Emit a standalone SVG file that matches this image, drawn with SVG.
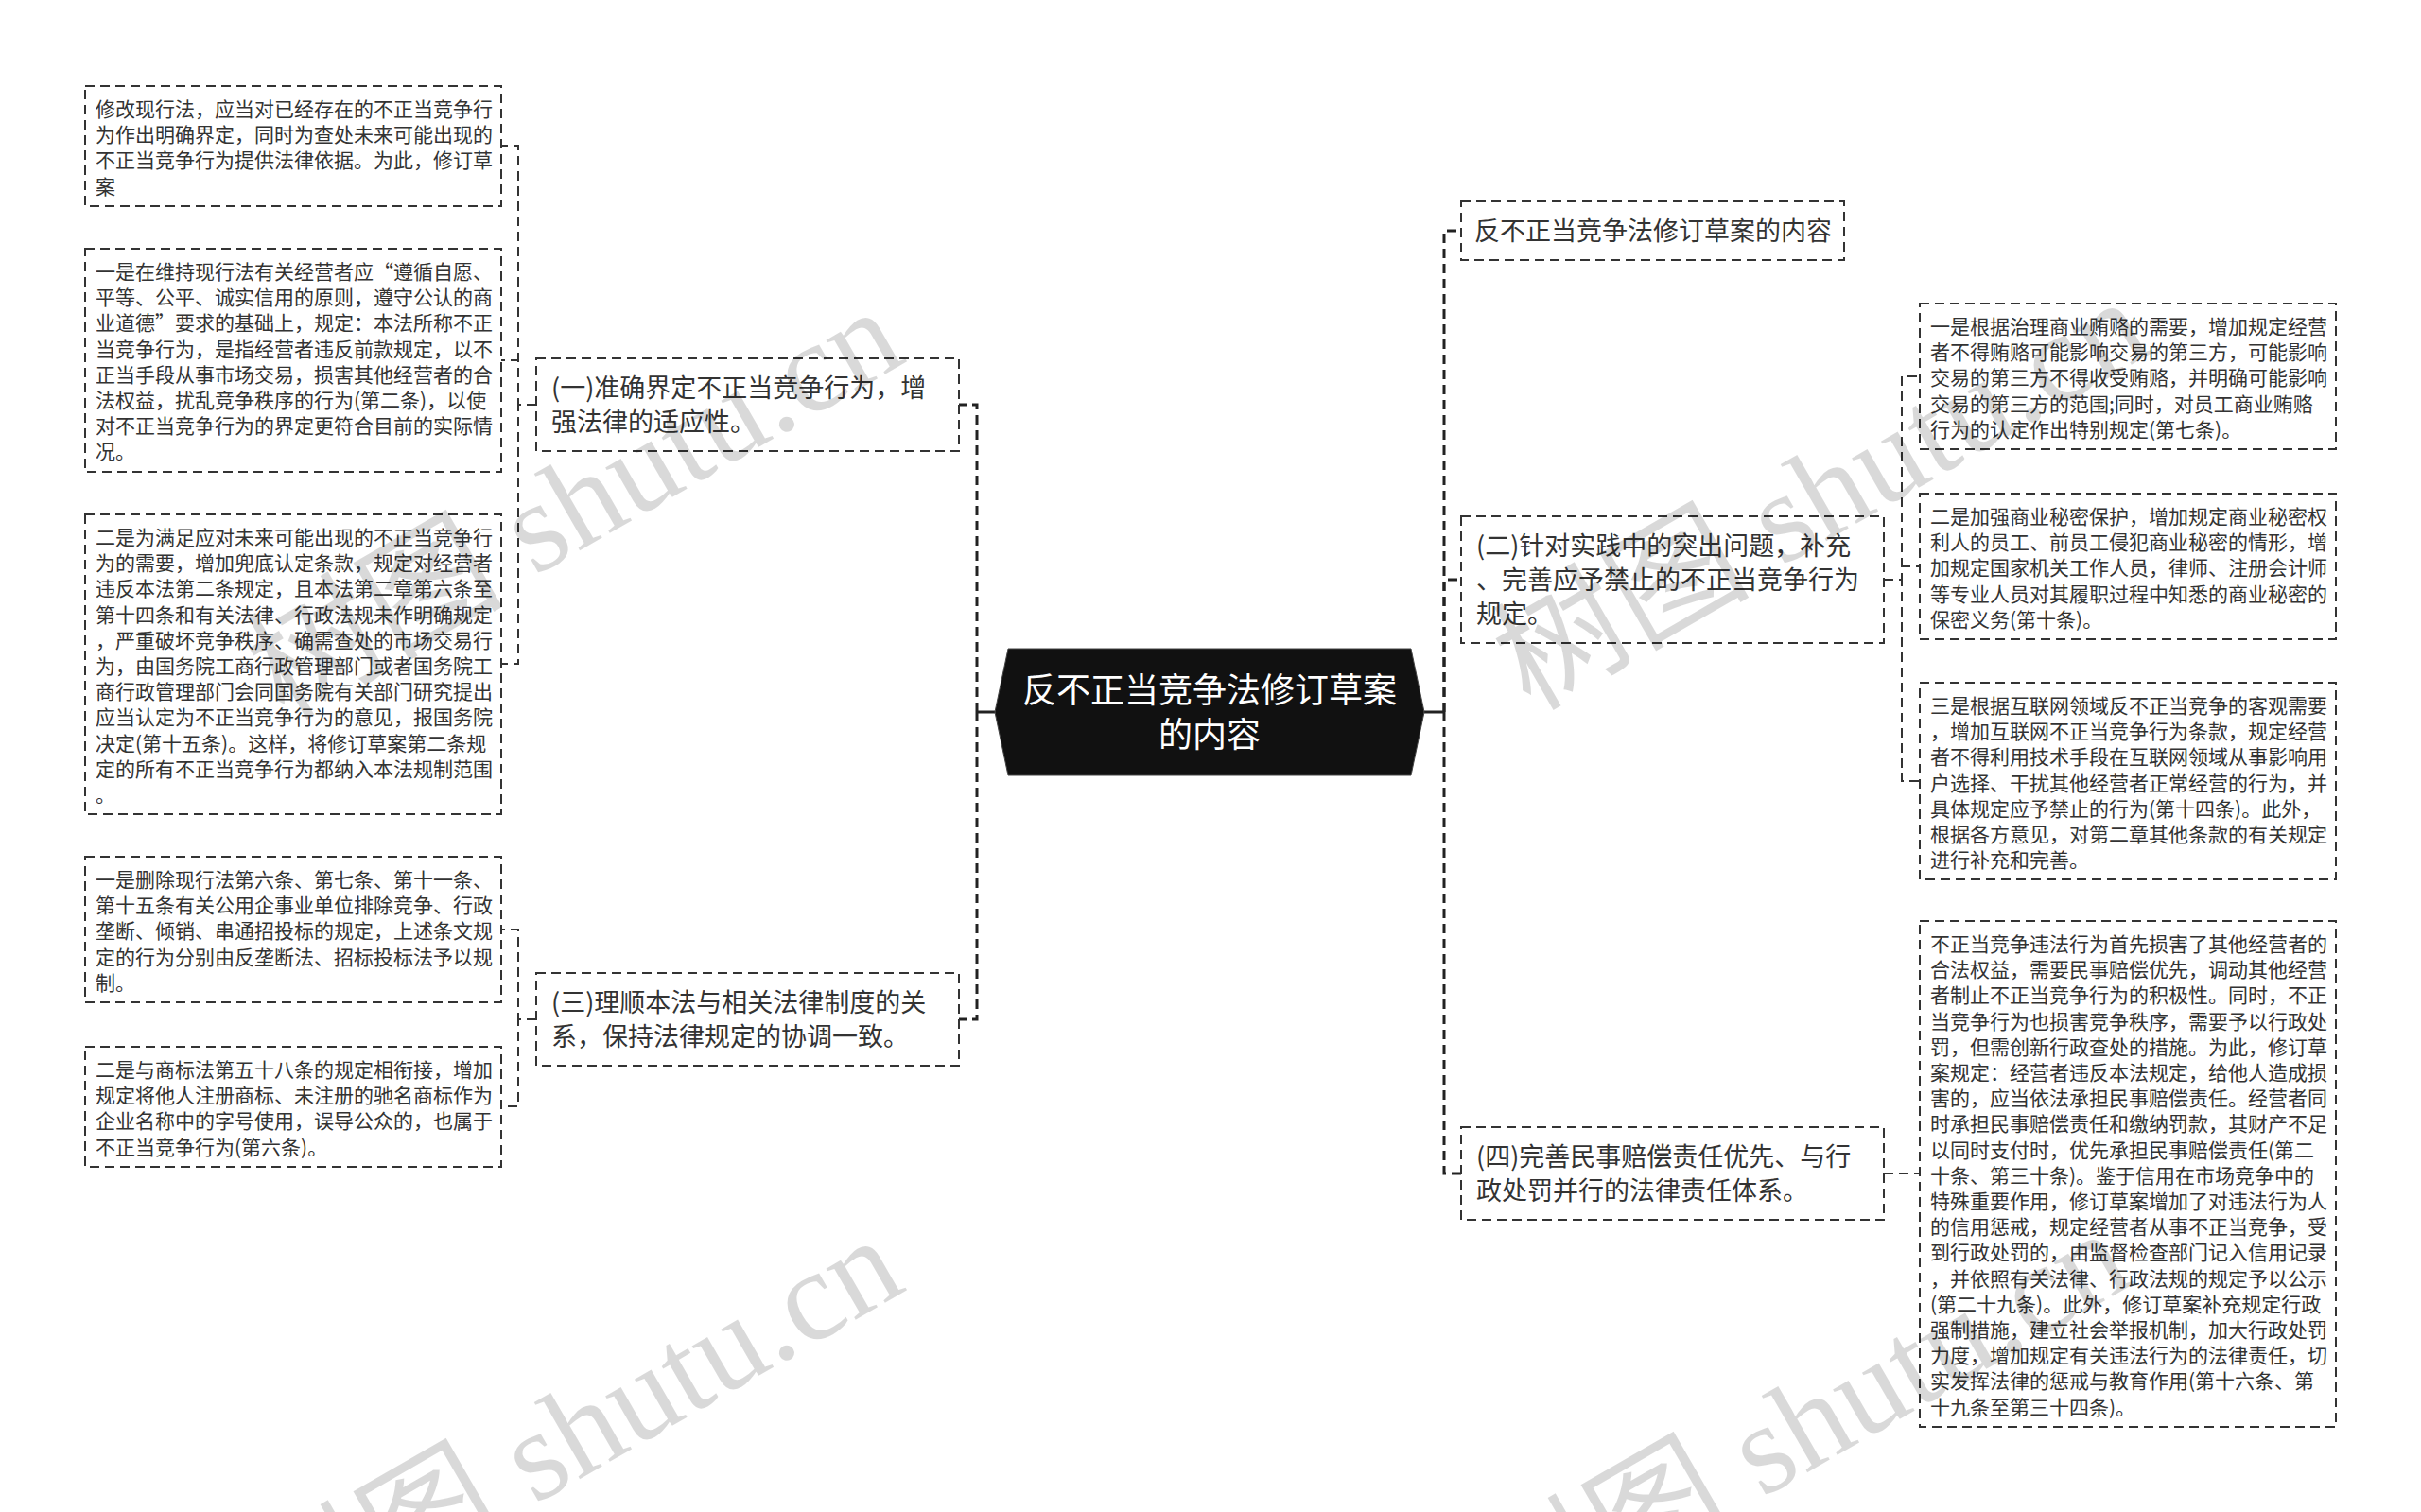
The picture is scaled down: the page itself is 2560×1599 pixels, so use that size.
<svg xmlns="http://www.w3.org/2000/svg" width="2560" height="1599" viewBox="0 0 2560 1599">
<style>
.box{fill:none;stroke:#333;stroke-width:2;stroke-dasharray:10 6}
.t{font-family:"Noto Sans CJK SC","Noto Sans",sans-serif;fill:#333}
.s{font-size:21px}
.m{font-size:27px}
.c{font-size:36px;fill:#fff;text-anchor:middle}
.e{fill:none;stroke:#333;stroke-width:2;stroke-dasharray:10 6}
.ec{fill:none;stroke:#222;stroke-width:3;stroke-dasharray:10 6}
.st{fill:none;stroke:#222;stroke-width:3}
.wm{font-family:"Liberation Serif","Noto Sans CJK SC",serif;font-size:136px;fill:#000;fill-opacity:0.15}
</style>
<rect width="2560" height="1599" fill="#fff"/>
<g id="connectors">
<path class="st" d="M1052 753H1033"/>
<path class="ec" d="M1033 753V428H1014"/>
<path class="ec" d="M1033 753V1078H1014"/>
<path class="st" d="M1506 753H1527"/>
<path class="ec" d="M1527 753V244H1545"/>
<path class="ec" d="M1527 753V613H1545"/>
<path class="ec" d="M1527 753V1241H1545"/>
<path class="e" d="M567 428H548V154H530"/>
<path class="e" d="M567 428H548V381H530"/>
<path class="e" d="M567 428H548V702H530"/>
<path class="e" d="M567 1078H548V983H530"/>
<path class="e" d="M567 1078H548V1170H530"/>
<path class="e" d="M1992 613H2011V398H2030"/>
<path class="e" d="M1992 613H2011V599H2030"/>
<path class="e" d="M1992 613H2011V826H2030"/>
<path class="e" d="M1992 1241H2030"/>
</g>
<g id="root">
<polygon points="1052,753 1066,686 1492,686 1506,753 1492,820 1066,820" fill="#111" stroke="#444" stroke-width="1"/>
<text class="t c" x="1279" y="743">反不正当竞争法修订草案</text>
<text class="t c" x="1279" y="790">的内容</text>
</g>
<g id="n1">
<rect class="box" x="567" y="379" width="447" height="98"/>
<text class="t m" x="583" y="420">(一)准确界定不正当竞争行为，增</text>
<text class="t m" x="583" y="456">强法律的适应性。</text>
</g>
<g id="n1a">
<rect class="box" x="90" y="91" width="440" height="127"/>
<text class="t s" x="101" y="123">修改现行法，应当对已经存在的不正当竞争行</text>
<text class="t s" x="101" y="150.2">为作出明确界定，同时为查处未来可能出现的</text>
<text class="t s" x="101" y="177.4">不正当竞争行为提供法律依据。为此，修订草</text>
<text class="t s" x="101" y="204.6">案</text>
</g>
<g id="n1b">
<rect class="box" x="90" y="263" width="440" height="236"/>
<text class="t s" x="101" y="295">一是在维持现行法有关经营者应“遵循自愿、</text>
<text class="t s" x="101" y="322.2">平等、公平、诚实信用的原则，遵守公认的商</text>
<text class="t s" x="101" y="349.4">业道德”要求的基础上，规定：本法所称不正</text>
<text class="t s" x="101" y="376.6">当竞争行为，是指经营者违反前款规定，以不</text>
<text class="t s" x="101" y="403.8">正当手段从事市场交易，损害其他经营者的合</text>
<text class="t s" x="101" y="431">法权益，扰乱竞争秩序的行为(第二条)，以使</text>
<text class="t s" x="101" y="458.2">对不正当竞争行为的界定更符合目前的实际情</text>
<text class="t s" x="101" y="485.4">况。</text>
</g>
<g id="n1c">
<rect class="box" x="90" y="544" width="440" height="317"/>
<text class="t s" x="101" y="576">二是为满足应对未来可能出现的不正当竞争行</text>
<text class="t s" x="101" y="603.2">为的需要，增加兜底认定条款，规定对经营者</text>
<text class="t s" x="101" y="630.4">违反本法第二条规定，且本法第二章第六条至</text>
<text class="t s" x="101" y="657.6">第十四条和有关法律、行政法规未作明确规定</text>
<text class="t s" x="101" y="684.8">，严重破坏竞争秩序、确需查处的市场交易行</text>
<text class="t s" x="101" y="712">为，由国务院工商行政管理部门或者国务院工</text>
<text class="t s" x="101" y="739.2">商行政管理部门会同国务院有关部门研究提出</text>
<text class="t s" x="101" y="766.4">应当认定为不正当竞争行为的意见，报国务院</text>
<text class="t s" x="101" y="793.6">决定(第十五条)。这样，将修订草案第二条规</text>
<text class="t s" x="101" y="820.8">定的所有不正当竞争行为都纳入本法规制范围</text>
<text class="t s" x="101" y="848">。</text>
</g>
<g id="n3">
<rect class="box" x="567" y="1029" width="447" height="98"/>
<text class="t m" x="583" y="1070">(三)理顺本法与相关法律制度的关</text>
<text class="t m" x="583" y="1106">系，保持法律规定的协调一致。</text>
</g>
<g id="n3a">
<rect class="box" x="90" y="906" width="440" height="154"/>
<text class="t s" x="101" y="938">一是删除现行法第六条、第七条、第十一条、</text>
<text class="t s" x="101" y="965.2">第十五条有关公用企事业单位排除竞争、行政</text>
<text class="t s" x="101" y="992.4">垄断、倾销、串通招投标的规定，上述条文规</text>
<text class="t s" x="101" y="1019.6">定的行为分别由反垄断法、招标投标法予以规</text>
<text class="t s" x="101" y="1046.8">制。</text>
</g>
<g id="n3b">
<rect class="box" x="90" y="1107" width="440" height="127"/>
<text class="t s" x="101" y="1139">二是与商标法第五十八条的规定相衔接，增加</text>
<text class="t s" x="101" y="1166.2">规定将他人注册商标、未注册的驰名商标作为</text>
<text class="t s" x="101" y="1193.4">企业名称中的字号使用，误导公众的，也属于</text>
<text class="t s" x="101" y="1220.6">不正当竞争行为(第六条)。</text>
</g>
<g id="title">
<rect class="box" x="1545" y="213" width="405" height="62"/>
<text class="t m" x="1559" y="254">反不正当竞争法修订草案的内容</text>
</g>
<g id="n2">
<rect class="box" x="1545" y="546" width="447" height="134"/>
<text class="t m" x="1561" y="587">(二)针对实践中的突出问题，补充</text>
<text class="t m" x="1561" y="623">、完善应予禁止的不正当竞争行为</text>
<text class="t m" x="1561" y="659">规定。</text>
</g>
<g id="n2a">
<rect class="box" x="2030" y="321" width="440" height="154"/>
<text class="t s" x="2041" y="353">一是根据治理商业贿赂的需要，增加规定经营</text>
<text class="t s" x="2041" y="380.2">者不得贿赂可能影响交易的第三方，可能影响</text>
<text class="t s" x="2041" y="407.4">交易的第三方不得收受贿赂，并明确可能影响</text>
<text class="t s" x="2041" y="434.6">交易的第三方的范围;同时，对员工商业贿赂</text>
<text class="t s" x="2041" y="461.8">行为的认定作出特别规定(第七条)。</text>
</g>
<g id="n2b">
<rect class="box" x="2030" y="522" width="440" height="154"/>
<text class="t s" x="2041" y="554">二是加强商业秘密保护，增加规定商业秘密权</text>
<text class="t s" x="2041" y="581.2">利人的员工、前员工侵犯商业秘密的情形，增</text>
<text class="t s" x="2041" y="608.4">加规定国家机关工作人员，律师、注册会计师</text>
<text class="t s" x="2041" y="635.6">等专业人员对其履职过程中知悉的商业秘密的</text>
<text class="t s" x="2041" y="662.8">保密义务(第十条)。</text>
</g>
<g id="n2c">
<rect class="box" x="2030" y="722" width="440" height="208"/>
<text class="t s" x="2041" y="754">三是根据互联网领域反不正当竞争的客观需要</text>
<text class="t s" x="2041" y="781.2">，增加互联网不正当竞争行为条款，规定经营</text>
<text class="t s" x="2041" y="808.4">者不得利用技术手段在互联网领域从事影响用</text>
<text class="t s" x="2041" y="835.6">户选择、干扰其他经营者正常经营的行为，并</text>
<text class="t s" x="2041" y="862.8">具体规定应予禁止的行为(第十四条)。此外，</text>
<text class="t s" x="2041" y="890">根据各方意见，对第二章其他条款的有关规定</text>
<text class="t s" x="2041" y="917.2">进行补充和完善。</text>
</g>
<g id="n4">
<rect class="box" x="1545" y="1192" width="447" height="98"/>
<text class="t m" x="1561" y="1233">(四)完善民事赔偿责任优先、与行</text>
<text class="t m" x="1561" y="1269">政处罚并行的法律责任体系。</text>
</g>
<g id="n4a">
<rect class="box" x="2030" y="974" width="440" height="535"/>
<text class="t s" x="2041" y="1006">不正当竞争违法行为首先损害了其他经营者的</text>
<text class="t s" x="2041" y="1033.2">合法权益，需要民事赔偿优先，调动其他经营</text>
<text class="t s" x="2041" y="1060.4">者制止不正当竞争行为的积极性。同时，不正</text>
<text class="t s" x="2041" y="1087.6">当竞争行为也损害竞争秩序，需要予以行政处</text>
<text class="t s" x="2041" y="1114.8">罚，但需创新行政查处的措施。为此，修订草</text>
<text class="t s" x="2041" y="1142">案规定：经营者违反本法规定，给他人造成损</text>
<text class="t s" x="2041" y="1169.2">害的，应当依法承担民事赔偿责任。经营者同</text>
<text class="t s" x="2041" y="1196.4">时承担民事赔偿责任和缴纳罚款，其财产不足</text>
<text class="t s" x="2041" y="1223.6">以同时支付时，优先承担民事赔偿责任(第二</text>
<text class="t s" x="2041" y="1250.8">十条、第三十条)。鉴于信用在市场竞争中的</text>
<text class="t s" x="2041" y="1278">特殊重要作用，修订草案增加了对违法行为人</text>
<text class="t s" x="2041" y="1305.2">的信用惩戒，规定经营者从事不正当竞争，受</text>
<text class="t s" x="2041" y="1332.4">到行政处罚的，由监督检查部门记入信用记录</text>
<text class="t s" x="2041" y="1359.6">，并依照有关法律、行政法规的规定予以公示</text>
<text class="t s" x="2041" y="1386.8">(第二十九条)。此外，修订草案补充规定行政</text>
<text class="t s" x="2041" y="1414">强制措施，建立社会举报机制，加大行政处罚</text>
<text class="t s" x="2041" y="1441.2">力度，增加规定有关违法行为的法律责任，切</text>
<text class="t s" x="2041" y="1468.4">实发挥法律的惩戒与教育作用(第十六条、第</text>
<text class="t s" x="2041" y="1495.6">十九条至第三十四条)。</text>
</g>
<g id="watermarks">
<text class="wm" transform="translate(572,570) rotate(-30)" x="-332" y="31">树图 shutu.cn</text>
<text class="wm" transform="translate(1890,560) rotate(-30)" x="-332" y="31">树图 shutu.cn</text>
<text class="wm" transform="translate(572,1552) rotate(-30)" x="-332" y="31">树图 shutu.cn</text>
<text class="wm" transform="translate(1870,1545) rotate(-30)" x="-332" y="31">树图 shutu.cn</text>
</g>
</svg>
